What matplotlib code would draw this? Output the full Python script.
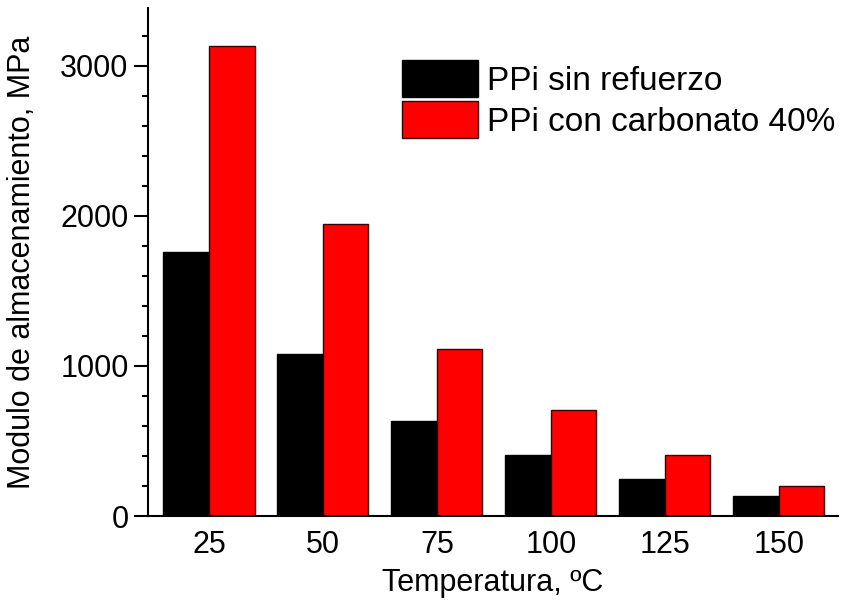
import numpy as np
import matplotlib.pyplot as plt
from matplotlib.ticker import MultipleLocator

plt.rcParams['font.family'] = ['Liberation Sans', 'DejaVu Sans']

temperaturas = ['25', '50', '75', '100', '125', '150']
sin_refuerzo = [1760, 1080, 633, 405, 249, 131]
con_carbonato = [3133, 1947, 1113, 707, 405, 200]

fig = plt.figure(figsize=(8.47, 6.01), dpi=100)
ax = fig.add_axes([0.1747, 0.1414, 0.8146, 0.845])

x = np.arange(len(temperaturas))
w = 0.4
ax.bar(x - w / 2, sin_refuerzo, w, color='black', edgecolor='black', linewidth=1,
       label='PPi sin refuerzo')
ax.bar(x + w / 2, con_carbonato, w, color='#ff0000', edgecolor='#3a0000', linewidth=1,
       label='PPi con carbonato 40%')

ax.set_xlim(-0.535, 5.52)
ax.set_ylim(0, 3385)
ax.set_xticks(x)
ax.set_xticklabels(temperaturas)
ax.yaxis.set_major_locator(MultipleLocator(1000))
ax.yaxis.set_minor_locator(MultipleLocator(200))

for s in ['top', 'right']:
    ax.spines[s].set_visible(False)
for s in ['left', 'bottom']:
    ax.spines[s].set_linewidth(1.5)

ax.tick_params(axis='both', which='major', labelsize=22, length=10, width=1.5, direction='out')
ax.tick_params(axis='y', which='minor', length=4, width=1.5, direction='out')
ax.tick_params(axis='y', which='major', pad=4)
ax.tick_params(axis='x', which='major', length=0, pad=10)

ax.set_xlabel('Temperatura, ºC', fontsize=22, labelpad=6)
ax.set_ylabel('Modulo de almacenamiento, MPa', fontsize=22, labelpad=17)

ax.legend(loc='upper left', bbox_to_anchor=(0.368, 0.897), frameon=False, fontsize=24,
          handlelength=2.28, handleheight=1.33, labelspacing=0.12, handletextpad=0.27,
          borderaxespad=0, borderpad=0)

fig.savefig('out.png', dpi=100)
